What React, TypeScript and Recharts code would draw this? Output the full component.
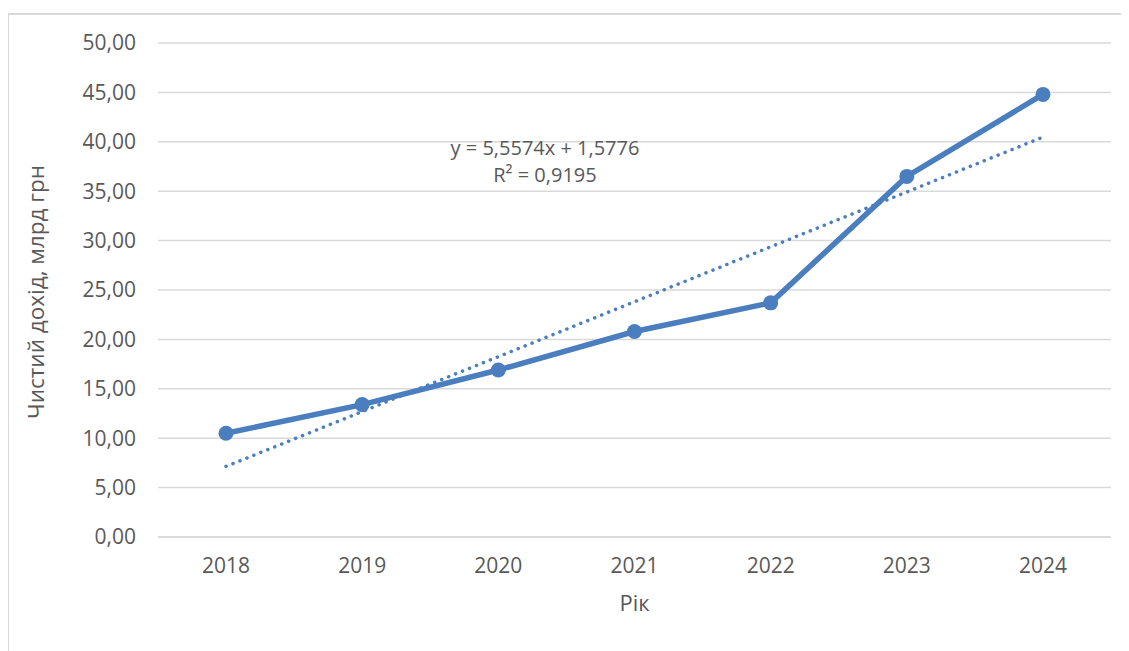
import { LineChart, Line, XAxis, YAxis, CartesianGrid } from 'recharts';

const years = ['2018', '2019', '2020', '2021', '2022', '2023', '2024'];
const netIncome = [10.5, 13.4, 16.9, 20.8, 23.7, 36.5, 44.8];
// linear trend as shown on the chart: y = 5,5574x + 1,5776
const trend = [7.14, 12.69, 18.25, 23.81, 29.37, 34.92, 40.48];
const yTicks = [0, 5, 10, 15, 20, 25, 30, 35, 40, 45, 50];

const data = years.map((year, i) => ({ year, value: netIncome[i], trend: trend[i] }));

const BLUE = '#4A7EBF';
const TEXT = '#595959';
const FONT = '"Open Sans", sans-serif';

const fmt = (v: number) => v.toFixed(2).replace('.', ',');

export default function App() {
  return (
    <div style={{ position: 'relative', margin: '-8px 0 0 -8px', width: 1129, height: 651, background: '#fff', overflow: 'hidden', fontFamily: FONT }}>
      {/* frame lines */}
      <div style={{ position: 'absolute', left: 0, top: 0, width: 1129, height: 2, background: '#d4d4d4' }} />
      <div style={{ position: 'absolute', left: 7, top: 13, width: 1122, height: 2, background: '#d9d9d9' }} />
      <div style={{ position: 'absolute', left: 7, top: 13, width: 2, height: 638, background: '#d9d9d9' }} />
      <div style={{ position: 'absolute', left: 0, top: 0 }}>
        <LineChart width={1129} height={651} data={data} margin={{ top: 43, right: 18, bottom: 84, left: 0 }}>
          <CartesianGrid vertical={false} stroke="#d9d9d9" strokeWidth={1.5} />
          <XAxis
            dataKey="year"
            padding={{ left: 68, right: 68 }}
            tickLine={false}
            tickSize={0}
            tickMargin={21}
            height={30}
            axisLine={{ stroke: '#d9d9d9', strokeWidth: 1.5 }}
            tick={{ fill: TEXT, fontSize: 21, fontFamily: FONT }}
            label={{ value: 'Рік', position: 'bottom', offset: 28, fill: TEXT, fontSize: 22, fontFamily: FONT }}
          />
          <YAxis
            width={158}
            domain={[0, 50]}
            ticks={yTicks}
            tickFormatter={fmt}
            axisLine={false}
            tickLine={false}
            tickSize={0}
            tickMargin={22}
            tick={{ fill: TEXT, fontSize: 21, fontFamily: FONT }}
            label={{
              content: () => (
                <text x={35} y={292} transform="rotate(-90 35 292)" textAnchor="middle" dominantBaseline="central" fill={TEXT} fontSize={22.5} fontFamily={FONT}>
                  Чистий дохід, млрд грн
                </text>
              ),
            }}
          />
          <Line dataKey="trend" stroke={BLUE} strokeWidth={3.5} strokeDasharray="0.1 7.4" strokeLinecap="round" dot={false} isAnimationActive={false} />
          <Line dataKey="value" stroke={BLUE} strokeWidth={5.5} dot={{ r: 7.5, fill: BLUE, stroke: BLUE, strokeWidth: 0 }} activeDot={false} isAnimationActive={false} />
        </LineChart>
      </div>
      <div style={{ position: 'absolute', left: 420, top: 134, width: 250, textAlign: 'center', color: TEXT, fontSize: 20, lineHeight: '27px' }}>
        <div>y = 5,5574x + 1,5776</div>
        <div>R² = 0,9195</div>
      </div>
    </div>
  );
}
